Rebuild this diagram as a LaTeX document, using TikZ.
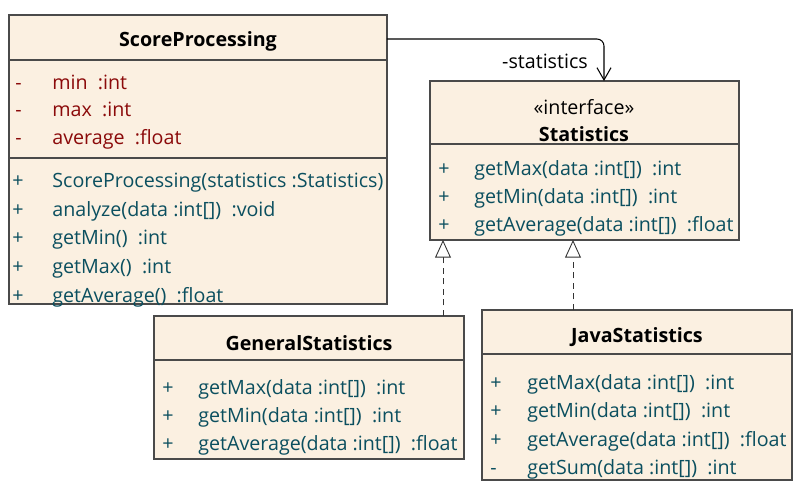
\documentclass[tikz,border=0pt]{standalone}
\usepackage{fontspec}
\setmainfont{Open Sans}
\usetikzlibrary{arrows.meta}
\usetikzlibrary{calc}
\definecolor{umlfill}{HTML}{FBF0E1}
\definecolor{umlline}{HTML}{4A4A4A}
\definecolor{attrred}{HTML}{8B0A0A}
\definecolor{opteal}{HTML}{0B4F5F}

\begin{document}
\begin{tikzpicture}[x=0.02cm, y=-0.02cm, font=\fontsize{11.2}{13}\selectfont,
    compart/.style={draw=umlline, fill=umlfill, line width=0.7pt, inner sep=0pt, outer sep=0pt, anchor=north west},
    classname/.style={font=\fontsize{11.2}{13}\selectfont\bfseries},
    row/.style={anchor=west, inner sep=0pt, text height=1.6ex, text depth=0.45ex},
    attr/.style={row, text=attrred},
    oper/.style={row, text=opteal},
    assoc/.style={line width=0.6pt, rounded corners=4pt, -{Straight Barb[length=7pt, width=8pt]}},
    realize/.style={line width=0.5pt, draw=black!80, dash pattern=on 3.5pt off 2.5pt, -{Triangle[open, length=10pt, width=9pt, fill=white]}}]
  \useasboundingbox (0,0) rectangle (806,488);

  % ScoreProcessing
  \node[compart, minimum width=7.56cm, minimum height=0.9cm] (sp-title) at (9,15) {};
  \node[compart, minimum width=7.56cm, minimum height=1.96cm] (sp-attr) at (sp-title.south west) {};
  \node[compart, minimum width=7.56cm, minimum height=2.92cm] (sp-ops) at (sp-attr.south west) {};
  \node[classname] (sp-name) at ($(sp-title.center)+(0,4)$) {ScoreProcessing};
  \foreach \v/\t [count=\i from 0] in {-/min\ \ :int, -/max\ \ :int, -/average\ \ :float} {
    \node[attr] (sp-av\i) at (15, 84+27.5*\i) {\v};
    \node[attr] (sp-a\i) at (52, 84+27.5*\i) {\t};
  }
  \foreach \v/\t [count=\i from 0] in {+/ScoreProcessing(statistics :Statistics), +/analyze(data :int[])\ \ :void,
      +/getMin()\ \ :int, +/getMax()\ \ :int, +/getAverage()\ \ :float} {
    \node[oper] (sp-ov\i) at (12, 182+28.75*\i) {\v};
    \node[oper] (sp-o\i) at (52, 182+28.75*\i) {\t};
  }

  % Statistics
  \node[compart, minimum width=6.18cm, minimum height=1.26cm] (st-head) at (430,81) {};
  \node[compart, minimum width=6.18cm, minimum height=1.92cm] (st-ops) at (st-head.south west) {};
  \node (st-stereo) at (584,107) {«interface»};
  \node[classname] (st-name) at (584,134) {Statistics};
  \foreach \v/\t [count=\i from 0] in {+/getMax(data :int[])\ \ :int, +/getMin(data :int[])\ \ :int,
      +/getAverage(data :int[])\ \ :float} {
    \node[oper] (st-ov\i) at (438, 170+28*\i) {\v};
    \node[oper] (st-o\i) at (474, 170+28*\i) {\t};
  }

  % GeneralStatistics
  \node[compart, minimum width=6.2cm, minimum height=0.88cm] (gs-title) at (154,316) {};
  \node[compart, minimum width=6.2cm, minimum height=1.98cm] (gs-ops) at (gs-title.south west) {};
  \node[classname] (gs-name) at ($(gs-title.center)+(0,5)$) {GeneralStatistics};
  \foreach \v/\t [count=\i from 0] in {+/getMax(data :int[])\ \ :int, +/getMin(data :int[])\ \ :int,
      +/getAverage(data :int[])\ \ :float} {
    \node[oper] (gs-ov\i) at (162, 389+28*\i) {\v};
    \node[oper] (gs-o\i) at (198, 389+28*\i) {\t};
  }

  % JavaStatistics
  \node[compart, minimum width=6.2cm, minimum height=0.88cm] (js-title) at (482,310) {};
  \node[compart, minimum width=6.2cm, minimum height=2.52cm] (js-ops) at (js-title.south west) {};
  \node[classname] (js-name) at ($(js-title.center)+(0,5)$) {JavaStatistics};
  \foreach \v/\t [count=\i from 0] in {+/getMax(data :int[])\ \ :int, +/getMin(data :int[])\ \ :int,
      +/getAverage(data :int[])\ \ :float, -/getSum(data :int[])\ \ :int} {
    \node[oper] (js-ov\i) at (490, 384+28.3*\i) {\v};
    \node[oper] (js-o\i) at (527, 384+28.3*\i) {\t};
  }

  % connectors
  \coordinate (assoc-bend) at (604,39);
  \draw[assoc] (sp-title.east |- assoc-bend) -- (assoc-bend) -- (assoc-bend |- st-head.north);
  \node (assoc-label) at (545,61) {-statistics};
  \coordinate (gs-foot) at (443,316);
  \coordinate (js-foot) at (573,310);
  \draw[realize] (gs-foot) -- (gs-foot |- st-ops.south);
  \draw[realize] (js-foot) -- (js-foot |- st-ops.south);
\end{tikzpicture}
\end{document}
